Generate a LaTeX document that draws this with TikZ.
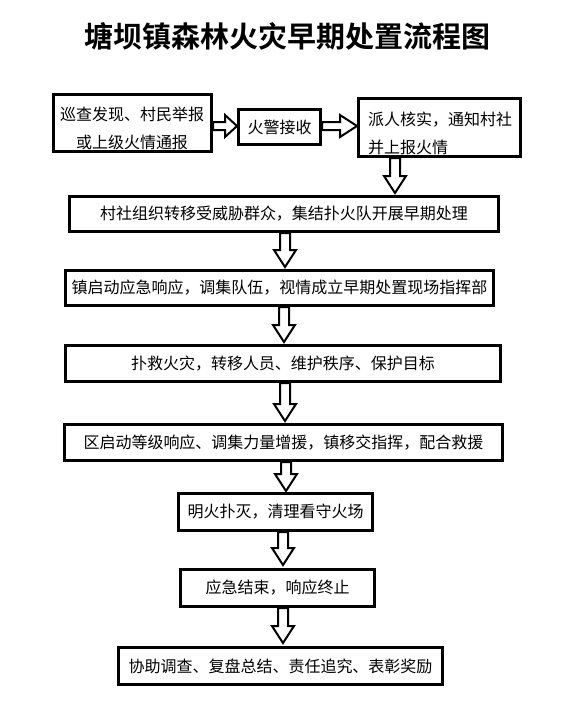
\documentclass[tikz,border=0pt]{standalone}
\usepackage{fontspec}
\newfontfamily\cjk{Noto Sans CJK SC}
\newfontfamily\cjkb{Noto Sans CJK SC Bold}
\usetikzlibrary{calc}
\tikzset{
  box/.style={draw=black, line width=3pt, inner sep=0pt, font=\cjk\fontsize{16pt}{20pt}\selectfont},
  boxtext/.style={inner sep=0pt, font=\cjk\fontsize{16pt}{28pt}\selectfont},
  blockarrow/.style={draw=black, line width=2pt, fill=white, line join=miter}
}
\newcommand\vblock[2]{%
  \draw[blockarrow] let \p1=(#1), \p2=(#2) in
    (\x1-5pt,\y1) -- (\x1+5pt,\y1) -- (\x1+5pt,\y2+17pt) -- (\x1+11pt,\y2+17pt) -- (\x1,\y2)
    -- (\x1-11pt,\y2+17pt) -- (\x1-5pt,\y2+17pt) -- cycle;}
\newcommand\hblock[3]{%
  \draw[blockarrow] let \p1=(#1), \p2=(#2) in
    (\x1,\y1+4pt) -- (\x2-#3,\y1+4pt) -- (\x2-#3,\y1+11pt) -- (\x2,\y1)
    -- (\x2-#3,\y1-11pt) -- (\x2-#3,\y1-4pt) -- (\x1,\y1-4pt) -- cycle;}
\begin{document}
\begin{tikzpicture}[x=1pt,y=-1pt]
\fill[white] (0,0) rectangle (574,721);
\useasboundingbox (0,0) rectangle (574,721);

\node[font=\cjkb\fontsize{29pt}{29pt}\selectfont, inner sep=0pt] (title) at (287.5,36) {塘坝镇森林火灾早期处置流程图};

% boxes
\node[box, minimum width=158pt, minimum height=57pt] (A) at (132.5,123) {};
\node[boxtext, align=center] (At) at (132,128) {巡查发现、村民举报\\或上级火情通报};
\node[box, minimum width=82pt, minimum height=35pt] (B) at (279.5,127) {火警接收};
\node[box, minimum width=162pt, minimum height=58pt] (C) at (439.5,127.5) {};
\node[boxtext, align=left, anchor=west] (Ct) at (368,133.5) {派人核实，通知村社\\并上报火情};
\node[box, minimum width=429pt, minimum height=35pt] (D) at (284,214) {村社组织转移受威胁群众，集结扑火队开展早期处理};
\node[box, minimum width=428pt, minimum height=35pt] (E) at (279.5,288) {镇启动应急响应，调集队伍，视情成立早期处置现场指挥部};
\node[box, minimum width=435pt, minimum height=36pt] (F) at (283,363.5) {扑救火灾，转移人员、维护秩序、保护目标};
\node[box, minimum width=438pt, minimum height=36pt] (G) at (283.5,442.5) {区启动等级响应、调集力量增援，镇移交指挥，配合救援};
\node[box, minimum width=194pt, minimum height=37pt] (H) at (275.5,512) {明火扑灭，清理看守火场};
\node[box, minimum width=194pt, minimum height=37pt] (I) at (277.5,588) {应急结束，响应终止};
\node[box, minimum width=324pt, minimum height=37pt] (J) at (280.5,666) {协助调查、复盘总结、责任追究、表彰奖励};

% helper coordinates
\coordinate (h1) at (0,126);
\coordinate (v1) at (395,0);
\coordinate (v2) at (285,0);
\coordinate (v3) at (284,0);
\coordinate (v4) at (285,0);
\coordinate (v5) at (286,0);
\coordinate (v6) at (283,0);
\coordinate (v7) at (283,0);

% arrows
\hblock{A.east |- h1}{B.west |- h1}{12pt}
\hblock{B.east |- h1}{C.west |- h1}{17pt}
\vblock{C.south -| v1}{$(D.north -| v1)+(0,-2)$}
\vblock{D.south -| v2}{$(E.north -| v2)+(0,-2)$}
\vblock{E.south -| v3}{$(F.north -| v3)+(0,-2)$}
\vblock{F.south -| v4}{$(G.north -| v4)+(0,-2)$}
\vblock{G.south -| v5}{$(H.north -| v5)+(0,-1)$}
\vblock{H.south -| v6}{$(I.north -| v6)+(0,-3)$}
\vblock{I.south -| v7}{$(J.north -| v7)+(0,-3)$}
\end{tikzpicture}
\end{document}
